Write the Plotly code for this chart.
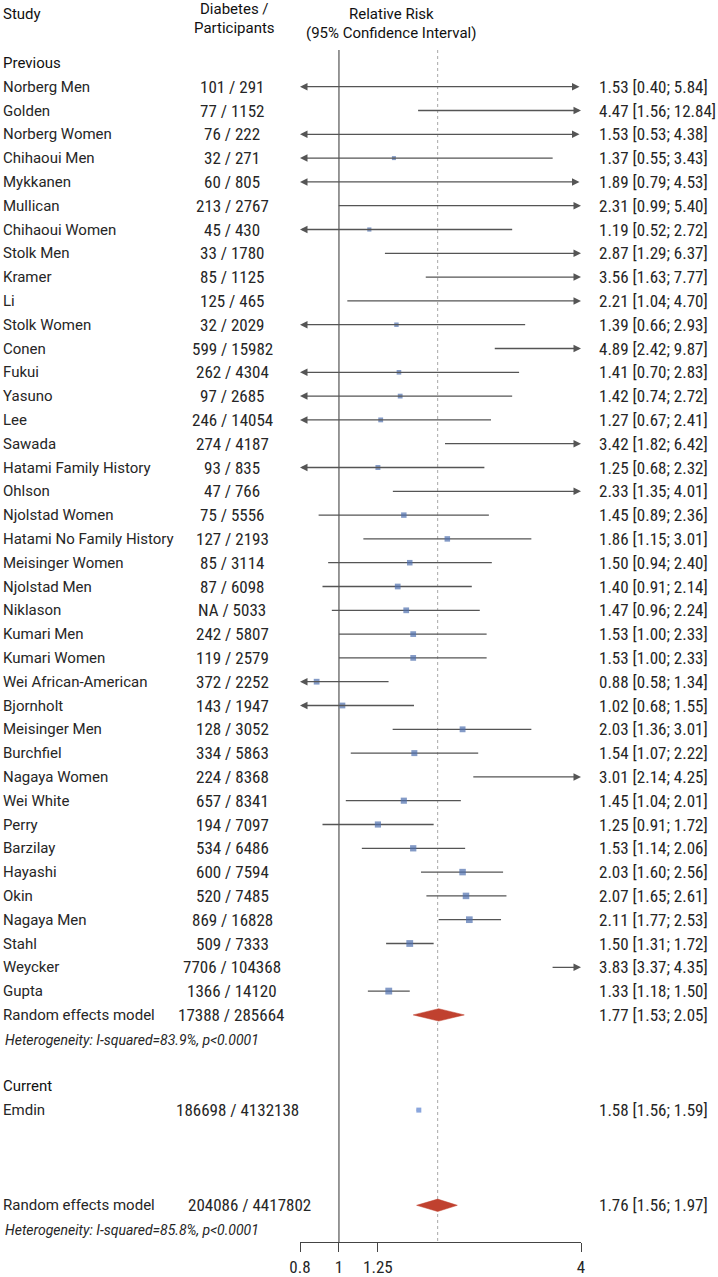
import math
import plotly.graph_objects as go

# ---------------- data ----------------
studies = ["Norberg Men", "Golden", "Norberg Women", "Chihaoui Men", "Mykkanen", "Mullican",
           "Chihaoui Women", "Stolk Men", "Kramer", "Li", "Stolk Women", "Conen", "Fukui",
           "Yasuno", "Lee", "Sawada", "Hatami Family History", "Ohlson", "Njolstad Women",
           "Hatami No Family History", "Meisinger Women", "Njolstad Men", "Niklason",
           "Kumari Men", "Kumari Women", "Wei African-American", "Bjornholt", "Meisinger Men",
           "Burchfiel", "Nagaya Women", "Wei White", "Perry", "Barzilay", "Hayashi", "Okin",
           "Nagaya Men", "Stahl", "Weycker", "Gupta"]
events = ["101", "77", "76", "32", "60", "213", "45", "33", "85", "125", "32", "599", "262",
          "97", "246", "274", "93", "47", "75", "127", "85", "87", "NA", "242", "119", "372",
          "143", "128", "334", "224", "657", "194", "534", "600", "520", "869", "509", "7706",
          "1366"]
participants = [291, 1152, 222, 271, 805, 2767, 430, 1780, 1125, 465, 2029, 15982, 4304,
                2685, 14054, 4187, 835, 766, 5556, 2193, 3114, 6098, 5033, 5807, 2579, 2252,
                1947, 3052, 5863, 8368, 8341, 7097, 6486, 7594, 7485, 16828, 7333, 104368,
                14120]
rr = [1.53, 4.47, 1.53, 1.37, 1.89, 2.31, 1.19, 2.87, 3.56, 2.21, 1.39, 4.89, 1.41, 1.42,
      1.27, 3.42, 1.25, 2.33, 1.45, 1.86, 1.50, 1.40, 1.47, 1.53, 1.53, 0.88, 1.02, 2.03,
      1.54, 3.01, 1.45, 1.25, 1.53, 2.03, 2.07, 2.11, 1.50, 3.83, 1.33]
lo = [0.40, 1.56, 0.53, 0.55, 0.79, 0.99, 0.52, 1.29, 1.63, 1.04, 0.66, 2.42, 0.70, 0.74,
      0.67, 1.82, 0.68, 1.35, 0.89, 1.15, 0.94, 0.91, 0.96, 1.00, 1.00, 0.58, 0.68, 1.36,
      1.07, 2.14, 1.04, 0.91, 1.14, 1.60, 1.65, 1.77, 1.31, 3.37, 1.18]
hi = [5.84, 12.84, 4.38, 3.43, 4.53, 5.40, 2.72, 6.37, 7.77, 4.70, 2.93, 9.87, 2.83, 2.72,
      2.41, 6.42, 2.32, 4.01, 2.36, 3.01, 2.40, 2.14, 2.24, 2.33, 2.33, 1.34, 1.55, 3.01,
      2.22, 4.25, 2.01, 1.72, 2.06, 2.56, 2.61, 2.53, 1.72, 4.35, 1.50]

prev_pooled = {"label": "Random effects model", "events": "17388", "n": 285664,
               "rr": 1.77, "lo": 1.53, "hi": 2.05,
               "het": "Heterogeneity: I-squared=83.9%, p<0.0001"}
current_study = {"label": "Emdin", "events": "186698", "n": 4132138,
                 "rr": 1.58, "lo": 1.56, "hi": 1.59}
all_pooled = {"label": "Random effects model", "events": "204086", "n": 4417802,
              "rr": 1.76, "lo": 1.56, "hi": 1.97,
              "het": "Heterogeneity: I-squared=85.8%, p<0.0001"}

tick_vals = [0.8, 1, 1.25, 4]
tick_text = ["0.8", "1", "1.25", "4"]
x_min, x_max = 0.8, 4.0

# ---------------- styling ----------------
W, H = 718, 1277
TXT = "#262626"
LINE = "#555555"
BLUE = "#4f6fae"
RED = "#c0412f"
NAME_FONT = "Roboto"
NUM_FONT = "Liberation Sans Narrow, Roboto Condensed, Roboto"
NUM_SIZE = 17
ROW0_PX, ROW_PX = 86.7, 23.8

def px_to_idx(py):
    return (py - ROW0_PX) / ROW_PX

fig = go.Figure()
ann = []

def fmt(v):
    return f"{v:.2f}"

def text_left(x_px, y, s, size=15, family=NAME_FONT, color=TXT, italic=False):
    f = dict(family=family, size=size, color=color)
    if italic:
        f["style"] = "italic"
    ann.append(dict(x=x_px / W, y=y, xref="paper", yref="y", text=s, showarrow=False,
                    xanchor="left", yanchor="middle", font=f, borderpad=0))

def text_center(x_px, y, s, size=15, family=NUM_FONT, color=TXT):
    f = dict(family=family, size=size, color=color)
    ann.append(dict(x=x_px / W, y=y, xref="paper", yref="y", text=s, showarrow=False,
                    xanchor="center", yanchor="middle", font=f, borderpad=0))

def ci_line(y, l, h):
    cl, ch = max(l, x_min), min(h, x_max)
    left_out, right_out = l < x_min, h > x_max
    if left_out or right_out:
        if left_out and right_out:
            x, ax, side = cl, ch, "end+start"
        elif right_out:
            x, ax, side = ch, cl, "end"
        else:
            x, ax, side = cl, ch, "end"
        ann.append(dict(x=math.log10(x), y=y, ax=math.log10(ax), ay=y, xref="x", yref="y",
                        axref="x", ayref="y", text="", showarrow=True, arrowhead=2,
                        arrowsize=1.15, arrowwidth=1.3, arrowcolor=LINE, arrowside=side,
                        standoff=0, startstandoff=0))
    else:
        fig.add_trace(go.Scatter(x=[cl, ch], y=[y, y], mode="lines",
                                 line=dict(color=LINE, width=1.3),
                                 hoverinfo="skip", showlegend=False))

def diamond(y, r, l, h, half=0.26):
    fig.add_trace(go.Scatter(x=[l, r, h, r, l], y=[y, y - half, y, y + half, y],
                             mode="lines", fill="toself", fillcolor=RED,
                             line=dict(color=RED, width=0.5),
                             hoverinfo="skip", showlegend=False))

HEAD = "#111111"
# ---------------- header ----------------
text_left(2, px_to_idx(14), "Study", color=HEAD)
text_center(234, px_to_idx(8.5), "Diabetes /", family=NAME_FONT, color=HEAD)
text_center(234, px_to_idx(27.5), "Participants", family=NAME_FONT, color=HEAD)
text_center(391, px_to_idx(13.5), "Relative Risk", family=NAME_FONT, color=HEAD)
text_center(391, px_to_idx(32.5), "(95% Confidence Interval)", family=NAME_FONT, color=HEAD)

# ---------------- previous studies ----------------
text_left(2, -1, "Previous", color=HEAD)
tau2 = 0.1
mk_x, mk_y, mk_s = [], [], []
for i, name in enumerate(studies):
    y = i
    text_left(2, y, name)
    text_center(232, y, f"{events[i]} / {participants[i]}", size=NUM_SIZE)
    text_left(598, y, f"{fmt(rr[i])} [{fmt(lo[i])}; {fmt(hi[i])}]", size=NUM_SIZE, family=NUM_FONT)
    ci_line(y, lo[i], hi[i])
    if x_min <= rr[i] <= x_max and hi[i] <= x_max:
        se = (math.log(hi[i]) - math.log(lo[i])) / 3.92
        w = 1.0 / (se ** 2 + tau2)
        mk_x.append(rr[i]); mk_y.append(y)
        mk_s.append(min(max(2.2 * math.sqrt(w), 4.0), 7.5))
fig.add_trace(go.Scatter(x=mk_x, y=mk_y, mode="markers",
                         marker=dict(symbol="square", size=mk_s, color=BLUE,
                                     line=dict(width=0)),
                         hoverinfo="skip", showlegend=False))

y_p = len(studies)
text_left(2, y_p, prev_pooled["label"])
text_center(231, y_p, f"{prev_pooled['events']} / {prev_pooled['n']}", size=NUM_SIZE)
text_left(598, y_p, f"{fmt(prev_pooled['rr'])} [{fmt(prev_pooled['lo'])}; {fmt(prev_pooled['hi'])}]",
          size=NUM_SIZE, family=NUM_FONT)
diamond(y_p, prev_pooled["rr"], prev_pooled["lo"], prev_pooled["hi"])
text_left(4, y_p + 1.05, prev_pooled["het"], size=14, italic=True)

# ---------------- current ----------------
y_c = y_p + 3
text_left(2, y_c, "Current", color=HEAD)
text_left(2, y_c + 1, current_study["label"])
text_center(237, y_c + 1, f"{current_study['events']} / {current_study['n']}", size=NUM_SIZE)
text_left(598, y_c + 1, f"{fmt(current_study['rr'])} [{fmt(current_study['lo'])}; {fmt(current_study['hi'])}]",
          size=NUM_SIZE, family=NUM_FONT)
fig.add_trace(go.Scatter(x=[current_study["lo"], current_study["hi"]], y=[y_c + 1, y_c + 1],
                         mode="lines", line=dict(color=LINE, width=1),
                         hoverinfo="skip", showlegend=False))
fig.add_trace(go.Scatter(x=[current_study["rr"]], y=[y_c + 1], mode="markers",
                         marker=dict(symbol="square", size=5, color="#8aa6dd",
                                     line=dict(width=0)),
                         hoverinfo="skip", showlegend=False))

# ---------------- overall ----------------
y_o = y_c + 5
text_left(2, y_o, all_pooled["label"])
text_center(249, y_o, f"{all_pooled['events']} / {all_pooled['n']}", size=NUM_SIZE)
text_left(598, y_o, f"{fmt(all_pooled['rr'])} [{fmt(all_pooled['lo'])}; {fmt(all_pooled['hi'])}]",
          size=NUM_SIZE, family=NUM_FONT)
diamond(y_o, all_pooled["rr"], all_pooled["lo"], all_pooled["hi"])
text_left(4, y_o + 1.05, all_pooled["het"], size=14, italic=True)

# ---------------- reference lines ----------------
axis_px = 1242
y_top = px_to_idx(50)
y_axis = px_to_idx(axis_px)
fig.add_trace(go.Scatter(x=[1, 1], y=[y_top, y_axis], mode="lines",
                         line=dict(color="#444444", width=1.1),
                         hoverinfo="skip", showlegend=False))
fig.add_trace(go.Scatter(x=[all_pooled["rr"], all_pooled["rr"]], y=[y_top, y_axis], mode="lines",
                         line=dict(color="#a8a8a8", width=1, dash="dot"),
                         hoverinfo="skip", showlegend=False))

# put reference lines behind everything
fig.data = fig.data[-2:] + fig.data[:-2]

fig.update_layout(
    width=W, height=H, margin=dict(l=0, r=0, t=0, b=0, pad=0),
    paper_bgcolor="white", plot_bgcolor="white",
    annotations=ann,
    xaxis=dict(type="log", range=[math.log10(x_min), math.log10(x_max)],
               domain=[300 / W, 581 / W], anchor="free", position=(H - axis_px) / H,
               automargin=False,
               showgrid=False, zeroline=False, showline=True, linecolor="#444444", linewidth=1,
               ticks="outside", ticklen=9, tickwidth=1, tickcolor="#444444",
               tickvals=tick_vals, ticktext=tick_text,
               tickfont=dict(family=NUM_FONT, size=NUM_SIZE, color=TXT), ticklabelstandoff=1),
    yaxis=dict(range=[px_to_idx(H), px_to_idx(0)], visible=False, domain=[0, 1],
               automargin=False),
)

fig.write_html("out.html", config={"displayModeBar": False},
               post_script="document.body.style.margin='0px';"
                           "document.documentElement.style.overflow='hidden';")
